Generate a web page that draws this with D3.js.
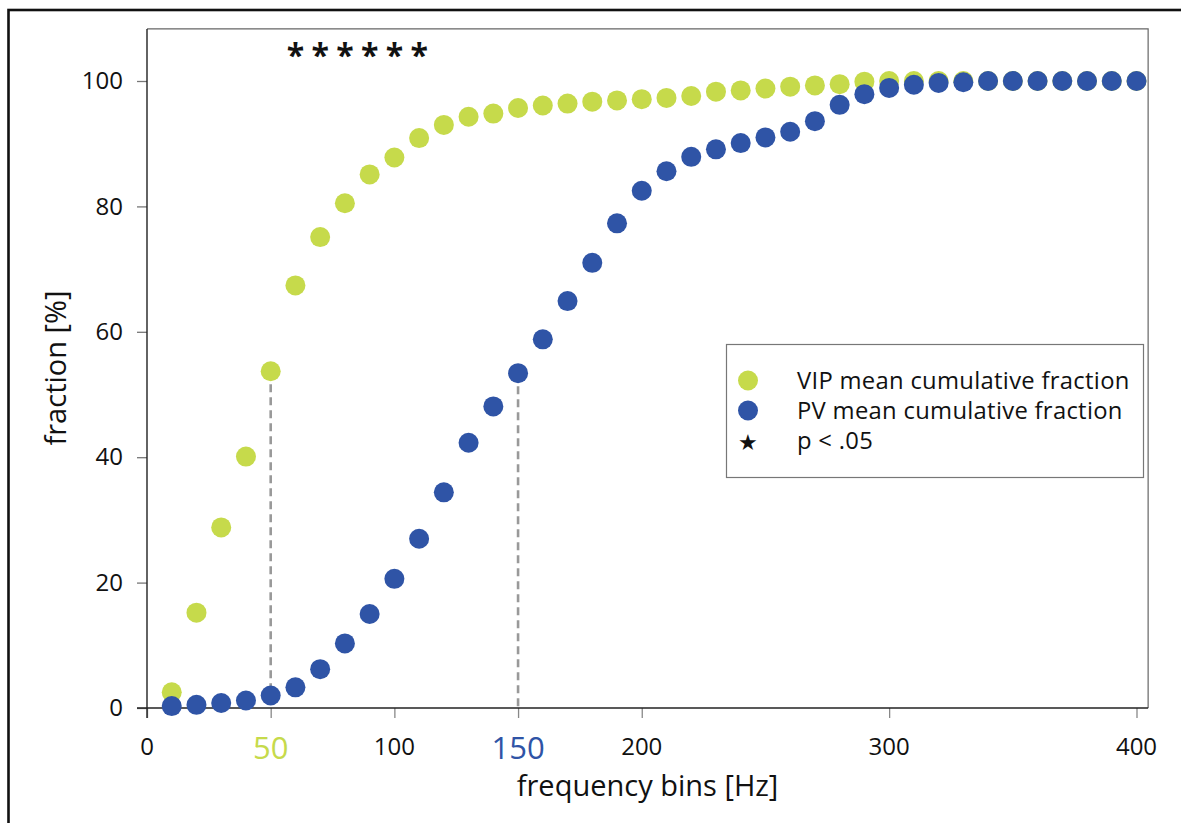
<!DOCTYPE html>
<html>
<head>
<meta charset="utf-8">
<script src="https://cdn.jsdelivr.net/npm/d3@7"></script>
<style>
  html, body { margin: 0; padding: 0; background: #fff; }
  svg { display: block; }
  text { font-family: "Open Sans", "Lato", sans-serif; }
</style>
</head>
<body>
<svg id="chart" width="1181" height="823"></svg>
<script>
// ---- data ----
const bins = [10,20,30,40,50,60,70,80,90,100,110,120,130,140,150,160,170,180,190,200,
              210,220,230,240,250,260,270,280,290,300,310,320,330,340,350,360,370,380,390,400];
const vipValues = [2.5,15.2,28.8,40.1,53.7,67.4,75.1,80.5,85.1,87.8,90.9,93.0,94.3,94.8,95.7,96.1,96.4,96.7,96.9,97.1,
                   97.3,97.6,98.3,98.5,98.8,99.1,99.3,99.5,99.9,100,100,100,100,100,100,100,100,100,100,100];
const pvValues  = [0.3,0.5,0.8,1.2,2.0,3.3,6.2,10.3,15.0,20.6,27.0,34.4,42.3,48.1,53.4,58.8,64.9,71.0,77.3,82.5,
                   85.6,87.9,89.1,90.1,91.0,91.9,93.6,96.2,97.9,98.9,99.4,99.7,99.8,100,100,100,100,100,100,100];
const sigBins = [60,70,80,90,100,110];
const yTickValues = [0,20,40,60,80,100];
const xTickValues = [0,100,200,300,400];
const markerBins = [50,150];          // dashed reference lines (VIP at 50 Hz, PV at 150 Hz)
const markerSeries = ["vip","pv"];
const legendLabels = ["VIP mean cumulative fraction","PV mean cumulative fraction","p < .05"];

const GREEN = "#c6da4b";
const BLUE = "#2f54a6";

const svg = d3.select("#chart");

// outer frame
svg.append("rect").attr("x", 8.5).attr("y", 10).attr("width", 1300).attr("height", 1000)
  .attr("fill", "none").attr("stroke", "#111").attr("stroke-width", 2.6);

const x = d3.scaleLinear().domain([0, 400]).range([147, 1136.5]);
const y = d3.scaleLinear().domain([0, 100]).range([708, 81]);
const xEnd = 404.7, yEnd = 108.3;

const g = svg.append("g");

// plot box top & right
g.append("path")
  .attr("d", `M${x(0)},${y(yEnd)}H${x(xEnd)}V${y(0)}`)
  .attr("fill", "none").attr("stroke", "#666").attr("stroke-width", 1.2);

// y axis
const yAxis = d3.axisLeft(y).tickValues(yTickValues).tickSize(10).tickPadding(14).tickSizeOuter(0);
const ya = g.append("g").attr("transform", `translate(${x(0)},0)`).call(yAxis);
ya.select(".domain").remove();
ya.selectAll(".tick line").attr("stroke", "#777").attr("stroke-width", 1.3);
ya.selectAll(".tick text").attr("font-size", 24).attr("fill", "#111")
  .attr("font-family", "Open Sans");

// x axis ticks
const xa = g.append("g").attr("transform", `translate(0,${y(0)})`)
  .call(d3.axisBottom(x).tickValues(xTickValues.concat(markerBins)).tickSize(10).tickFormat(""));
xa.select(".domain").remove();
xa.selectAll(".tick line").attr("stroke", "#888").attr("stroke-width", 1.3);

// axis lines
g.append("line").attr("x1", x(0)).attr("x2", x(0)).attr("y1", y(yEnd)).attr("y2", y(0) + 10)
  .attr("stroke", "#222").attr("stroke-width", 1.4);
g.append("line").attr("x1", x(0) - 10).attr("x2", x(xEnd)).attr("y1", y(0)).attr("y2", y(0))
  .attr("stroke", "#222").attr("stroke-width", 1.4);

// x tick labels
g.selectAll(".xlab").data(xTickValues).join("text")
  .attr("x", d => x(d)).attr("y", 745)
  .attr("text-anchor", "middle").attr("dominant-baseline", "central")
  .attr("font-size", 24).attr("fill", "#111").text(d => d);
g.selectAll(".xlab2").data(markerBins).join("text")
  .attr("x", d => x(d)).attr("y", 747)
  .attr("text-anchor", "middle").attr("dominant-baseline", "central")
  .attr("font-size", 31).attr("fill", (d, i) => markerSeries[i] === "vip" ? GREEN : BLUE).text(d => d);

// axis titles
g.append("text").attr("x", (x(0) + x(xEnd)) / 2).attr("y", 784)
  .attr("text-anchor", "middle").attr("dominant-baseline", "central")
  .attr("font-size", 29).attr("fill", "#111").text("frequency bins [Hz]");
g.append("text").attr("transform", `translate(54,${368}) rotate(-90)`)
  .attr("text-anchor", "middle").attr("dominant-baseline", "central")
  .attr("font-size", 29).attr("fill", "#111").text("fraction [%]");

// dashed reference lines
markerBins.forEach((b, i) => {
  const vals = markerSeries[i] === "vip" ? vipValues : pvValues;
  const v = vals[bins.indexOf(b)];
  g.append("line").attr("x1", x(b)).attr("x2", x(b)).attr("y1", y(v)).attr("y2", y(0))
    .attr("stroke", "#999").attr("stroke-width", 2.6).attr("stroke-dasharray", "8,5");
});

// points
g.selectAll(".vip").data(bins).join("circle")
  .attr("cx", d => x(d)).attr("cy", (d, i) => y(vipValues[i])).attr("r", 10).attr("fill", GREEN);
g.selectAll(".pv").data(bins).join("circle")
  .attr("cx", d => x(d)).attr("cy", (d, i) => y(pvValues[i])).attr("r", 10).attr("fill", BLUE);

// significance stars
g.selectAll(".star").data(sigBins).join("text")
  .attr("x", d => x(d)).attr("y", 67)
  .attr("text-anchor", "middle")
  .attr("font-size", 32).attr("font-weight", "bold").attr("font-family", "DejaVu Sans")
  .attr("fill", "#111").text("*");

// legend
const lg = g.append("g");
lg.append("rect").attr("x", 726.5).attr("y", 344.5).attr("width", 417).attr("height", 133)
  .attr("fill", "#fff").attr("stroke", "#777").attr("stroke-width", 1.2);
const rowY = [380.5, 410.5, 440.5];
lg.append("circle").attr("cx", 748).attr("cy", rowY[0]).attr("r", 10).attr("fill", GREEN);
lg.append("circle").attr("cx", 748).attr("cy", rowY[1]).attr("r", 10).attr("fill", BLUE);
lg.append("text").attr("x", 748).attr("y", rowY[2]).attr("text-anchor", "middle")
  .attr("dominant-baseline", "central").attr("font-size", 22).attr("font-family", "DejaVu Sans")
  .attr("fill", "#111").text("★");
lg.selectAll(".lt").data(legendLabels).join("text")
  .attr("x", 797).attr("y", (d, i) => rowY[i] + 8.3)
  .attr("font-size", 23.8).attr("font-family", "Lato").attr("letter-spacing", 0.3)
  .attr("fill", "#111")
  .text(d => d);
</script>
</body>
</html>
